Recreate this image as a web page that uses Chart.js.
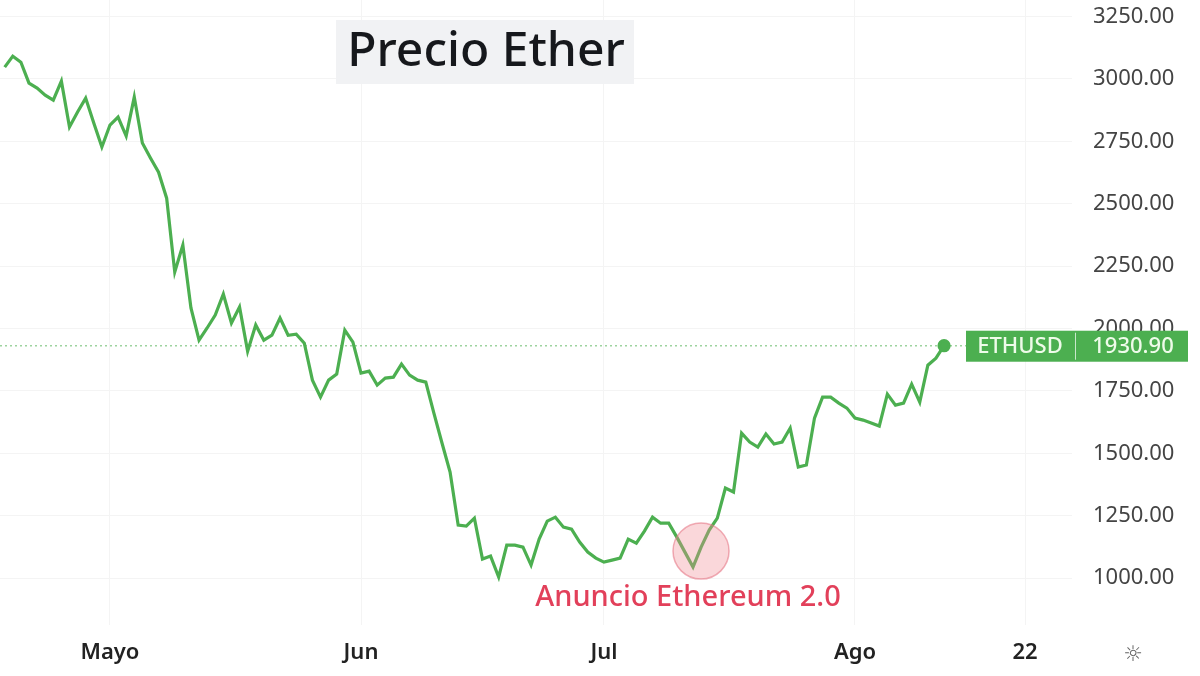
<!DOCTYPE html>
<html>
<head>
<meta charset="utf-8">
<script src="https://cdn.jsdelivr.net/npm/chart.js@4/dist/chart.umd.min.js"></script>
<style>
  html, body { margin: 0; padding: 0; background: #fff; }
  #wrap { width: 1200px; height: 676px; position: relative; }
</style>
</head>
<body>
<div id="wrap"><canvas id="chart"></canvas></div>
<script>
// daily ETHUSD close, 18 Apr 2022 -> 12 Aug 2022
const prices = [
  3047, 3091, 3067, 2983, 2963, 2935, 2915, 2991, 2807, 2867,
  2923, 2823, 2727, 2815, 2847, 2771, 2927, 2743, 2683, 2626,
  2522, 2226, 2334, 2082, 1953, 2002, 2054, 2138, 2022, 2086,
  1909, 2014, 1953, 1973, 2042, 1973, 1977, 1941, 1793, 1725,
  1793, 1817, 1993, 1945, 1821, 1829, 1773, 1801, 1805, 1857,
  1813, 1793, 1785, 1661, 1541, 1425, 1212, 1208, 1240, 1076,
  1088, 1004, 1132, 1132, 1124, 1052, 1156, 1228, 1244, 1204,
  1196, 1144, 1104, 1080, 1064, 1072, 1080, 1156, 1140, 1188,
  1244, 1220, 1220, 1164, 1104, 1044, 1124, 1192, 1240, 1361,
  1345, 1581, 1545, 1525, 1577, 1537, 1545, 1601, 1445, 1453,
  1641, 1725, 1725, 1701, 1681, 1641, 1633, 1621, 1609, 1737,
  1693, 1701, 1777, 1705, 1853, 1881, 1930.9
];
const days = prices.map((p, i) => i); // days since 18 Apr 2022

// x axis ticks (day index -> label)
const tickDays = [13, 44, 74, 105, 126];
const tickLabels = ["Mayo", "Jun", "Jul", "Ago", "22"];
const priceTicks = [1000, 1250, 1500, 1750, 2000, 2250, 2500, 2750, 3000, 3250];

const title = "Precio Ether";
const symbol = "ETHUSD";
const eventDay = 85;
const eventText = "Anuncio Ethereum 2.0";

const green = "#4caf50";
const last = prices.length - 1;

const overlay = {
  id: "overlay",
  beforeDatasetsDraw(chart) {
    const { ctx, chartArea, scales } = chart;
    const y = scales.y.getPixelForValue(prices[last]);
    ctx.save();
    ctx.strokeStyle = "rgba(76,175,80,0.55)";
    ctx.lineWidth = 1.5;
    ctx.setLineDash([2, 3]);
    ctx.beginPath();
    ctx.moveTo(chartArea.left, y);
    ctx.lineTo(chartArea.right, y);
    ctx.stroke();
    ctx.restore();
  },
  afterDraw(chart) {
    const { ctx, scales } = chart;
    const xs = scales.x, ys = scales.y;
    ctx.save();

    // title box
    ctx.fillStyle = "#f1f2f4";
    ctx.fillRect(336, 20, 298, 64);
    ctx.fillStyle = "#16181c";
    ctx.font = "500 48px 'Noto Sans'";
    ctx.textAlign = "center";
    ctx.textBaseline = "middle";
    ctx.fillText(title, 486, 52);

    // event marker
    const ex = xs.getPixelForValue(days[eventDay]) + 8;
    const ey = ys.getPixelForValue(prices[eventDay]) - 16;
    ctx.beginPath();
    ctx.arc(ex, ey, 28, 0, Math.PI * 2);
    ctx.fillStyle = "rgba(240,140,150,0.35)";
    ctx.fill();
    ctx.strokeStyle = "rgba(230,120,135,0.6)";
    ctx.lineWidth = 1.5;
    ctx.stroke();
    ctx.fillStyle = "#e2405a";
    ctx.font = "500 29px 'Noto Sans'";
    ctx.fillText(eventText, 688, 598);

    // last price label
    const py = ys.getPixelForValue(prices[last]);
    ctx.fillStyle = "#4caf50";
    ctx.fillRect(966, py - 15, 222, 31);
    ctx.strokeStyle = "rgba(255,255,255,0.7)";
    ctx.lineWidth = 1;
    ctx.beginPath();
    ctx.moveTo(1075.5, py - 13);
    ctx.lineTo(1075.5, py + 14);
    ctx.stroke();
    ctx.fillStyle = "#eefbe9";
    ctx.font = "500 22px 'Noto Sans'";
    ctx.fillText(symbol, 1020, py + 1);
    ctx.fillText(prices[last].toFixed(2), 1133, py + 1);

    // settings icon
    ctx.fillStyle = "#666";
    ctx.font = "22px 'DejaVu Sans'";
    ctx.fillText("\u263C", 1133, 655);
    ctx.restore();
  }
};

function noPad(s) {
  s.paddingTop = 0;
  s.paddingBottom = 0;
  s.paddingLeft = 0;
  s.paddingRight = 0;
}

new Chart(document.getElementById("chart"), {
  type: "line",
  data: {
    datasets: [{
      data: days.map((d, i) => ({ x: d, y: prices[i] })),
      borderColor: green,
      backgroundColor: green,
      borderWidth: 3.2,
      tension: 0,
      pointRadius: (c) => (c.dataIndex === last ? 5 : 0),
      pointHoverRadius: 0,
    }],
  },
  options: {
    responsive: true,
    maintainAspectRatio: false,
    animation: false,
    layout: { padding: 0, autoPadding: false },
    plugins: { legend: { display: false }, tooltip: { enabled: false } },
    scales: {
      x: {
        type: "linear",
        min: -0.58,
        max: 131.8,
        afterBuildTicks: (s) => { s.ticks = tickDays.map((v) => ({ value: v })); },
        afterFit: (s) => { s.height = 51; noPad(s); },
        ticks: {
          callback: (v) => tickLabels[tickDays.indexOf(v)],
          font: { family: "'Noto Sans'", size: 22, weight: "600" },
          color: "#222",
          padding: 15,
          maxRotation: 0,
        },
        grid: { color: "#f4f4f4", drawTicks: false },
        border: { display: false },
      },
      y: {
        position: "right",
        min: 812,
        max: 3316,
        afterBuildTicks: (s) => { s.ticks = priceTicks.map((v) => ({ value: v })); },
        afterFit: (s) => { s.width = 128; noPad(s); },
        ticks: {
          callback: (v) => v.toFixed(2),
          font: { family: "'Noto Sans'", size: 22 },
          color: "#444",
          padding: 21,
        },
        grid: { color: "#f4f4f4", drawTicks: false },
        border: { display: false },
      },
    },
  },
  plugins: [overlay],
});
</script>
</body>
</html>
